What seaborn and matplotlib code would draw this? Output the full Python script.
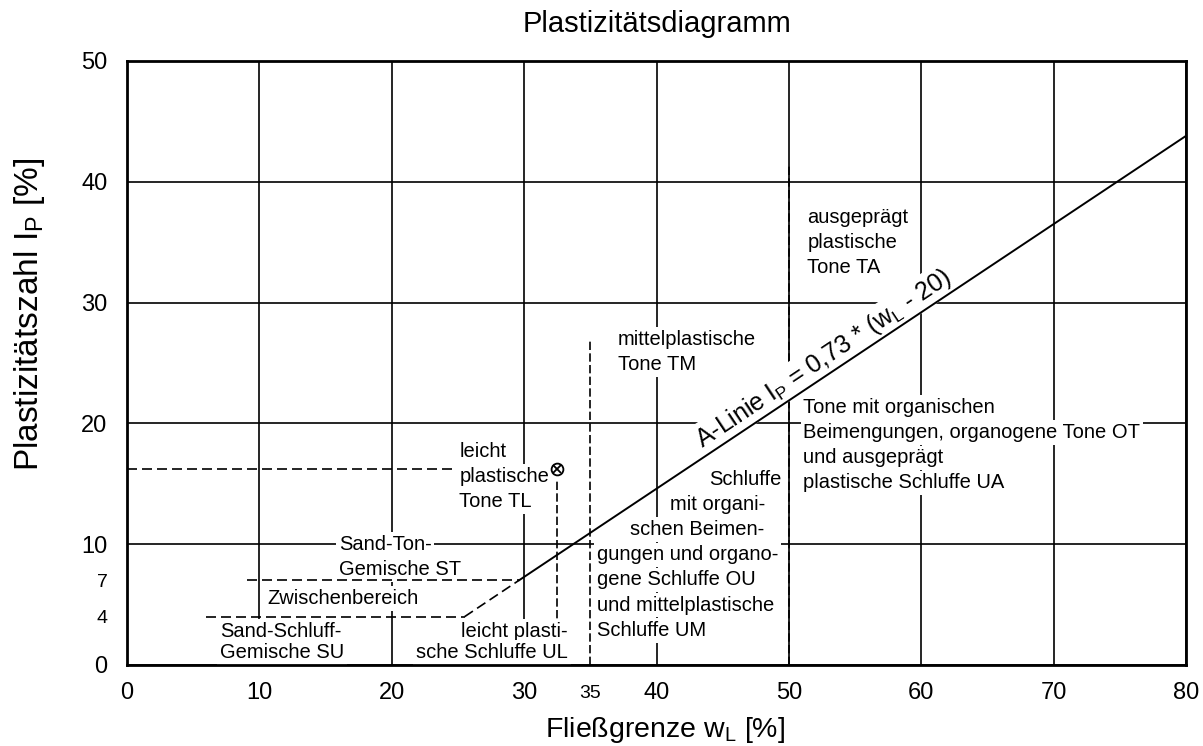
import numpy as np
import matplotlib.pyplot as plt
import seaborn as sns

# Achsen
x_major = [0, 10, 20, 30, 40, 50, 60, 70, 80]
x_minor = [35]
y_major = [0, 10, 20, 30, 40, 50]
y_minor = [4, 7]

# A-Linie
a_line_wl = [29.6, 80.0]
a_line_ip = [7.0, 43.8]
a_dash_wl = [25.5, 29.6]
a_dash_ip = [4.0, 7.0]

# Grenzlinien
st_wl = [9.1, 29.6]
st_ip = [7.0, 7.0]
su_wl = [6.0, 25.5]
su_ip = [4.0, 4.0]
tm_wl = [35.0, 35.0]
tm_ip = [0.0, 27.0]
ta_wl = [50.0, 50.0]
ta_ip = [0.0, 41.5]

# Probe
probe_wl = 32.5
probe_ip = 16.2

sns.set_style("white")
plt.rcParams["font.family"] = ["Liberation Sans", "DejaVu Sans"]
plt.rcParams["mathtext.fontset"] = "custom"
plt.rcParams["mathtext.rm"] = "Liberation Sans"
plt.rcParams["text.color"] = "black"
plt.rcParams["axes.labelcolor"] = "black"
plt.rcParams["xtick.color"] = "black"
plt.rcParams["ytick.color"] = "black"

fig = plt.figure(figsize=(12.03, 7.46), dpi=100)
ax = fig.add_axes([0.1056, 0.1086, 0.8803, 0.8097])

dash_h = (0, (6, 3))
dash_v = (0, (5, 2))
line_kw = dict(color="black", lw=1.2, estimator=None, sort=False, ax=ax, zorder=4)

sns.lineplot(x=a_line_wl, y=a_line_ip, color="black", lw=1.4, estimator=None, sort=False, ax=ax, zorder=5)
sns.lineplot(x=a_dash_wl, y=a_dash_ip, linestyle=dash_h, **line_kw)
sns.lineplot(x=st_wl, y=st_ip, linestyle=dash_h, **line_kw)
sns.lineplot(x=su_wl, y=su_ip, linestyle=dash_h, **line_kw)
sns.lineplot(x=tm_wl, y=tm_ip, linestyle=dash_v, **line_kw)
sns.lineplot(x=ta_wl, y=ta_ip, linestyle=dash_v, **line_kw)
# Hilfslinien zur Probe
sns.lineplot(x=[0, 25.0], y=[probe_ip, probe_ip], linestyle=dash_h, **line_kw)
sns.lineplot(x=[probe_wl, probe_wl], y=[0, probe_ip - 1.0], linestyle=dash_v, **line_kw)
sns.lineplot(x=[probe_wl], y=[probe_ip], marker="o", ms=8.5, mfc="white", mec="black", mew=1.3,
             color="black", estimator=None, ax=ax, zorder=6)
sns.lineplot(x=[probe_wl], y=[probe_ip], marker="x", ms=6, mec="black", mew=1.3,
             color="black", estimator=None, ax=ax, zorder=7)

ax.set_xlim(0, 80)
ax.set_ylim(0, 50)
ax.set_xticks(x_major)
ax.set_xticks(x_minor, minor=True)
ax.set_yticks(y_major)
ax.set_yticks(y_minor, minor=True)
ax.set_xticklabels([str(v) for v in x_major])
ax.set_xticklabels([str(v) for v in x_minor], minor=True)
ax.set_yticklabels([str(v) for v in y_major])
ax.set_yticklabels([str(v) for v in y_minor], minor=True)
ax.tick_params(axis="both", which="both", direction="in", length=10, width=1.1, color="black")
ax.tick_params(axis="x", which="major", labelsize=17, pad=12)
ax.tick_params(axis="x", which="minor", labelsize=14, pad=14.2)
ax.tick_params(axis="y", which="major", labelsize=17, pad=14)
ax.tick_params(axis="y", which="minor", labelsize=14, pad=14)
ax.grid(True, which="major", color="black", lw=1.2)
for sp in ax.spines.values():
    sp.set_linewidth(2.0)
    sp.set_color("black")
    sp.set_zorder(10)

ax.set_title("Plastizitätsdiagramm", fontsize=21, pad=21)
ax.set_xlabel(r"Fließgrenze w$_\mathregular{L}$ [%]", fontsize=20.5)
ax.set_ylabel(r"Plastizitätszahl I$_\mathregular{P}$ [%]", fontsize=24)
ax.xaxis.set_label_coords(0.508, -0.083)
ax.yaxis.set_label_coords(-0.0755, 0.58)

box = dict(facecolor="white", edgecolor="none", pad=2)


def block(lines, x, y, ha="left", step=2.08, xs=None, z=4.5):
    for i, s in enumerate(lines):
        ax.text(x if xs is None else xs[i], y - i * step, s, ha=ha, va="baseline",
                fontsize=14.5, bbox=box, zorder=z)


block(["leicht", "plastische", "Tone TL"], 25.1, 17.25)
block(["Sand-Ton-", "Gemische ST"], 16.0, 9.52, z=3)
block(["Zwischenbereich"], 10.6, 5.05)
block(["Sand-Schluff-", "Gemische SU"], 7.0, 2.3, step=1.71)
block(["leicht plasti-", "sche Schluffe UL"], 33.3, 2.3, ha="right", step=1.71)
block(["mittelplastische", "Tone TM"], 37.1, 26.5)
block(["ausgeprägt", "plastische", "Tone TA"], 51.4, 36.6)
block(["Tone mit organischen", "Beimengungen, organogene Tone OT",
       "und ausgeprägt", "plastische Schluffe UA"], 51.1, 20.85)
block(["Schluffe", "mit organi-", "schen Beimen-", "gungen und organo-",
       "gene Schluffe OU", "und mittelplastische", "Schluffe UM"], 35.5, 14.9,
      xs=[44.0, 41.0, 38.0, 35.5, 35.5, 35.5, 35.5])

ax.text(53.2, 24.4, r"A-Linie I$_\mathregular{P}$ = 0,73 * (w$_\mathregular{L}$ - 20)",
        rotation=np.degrees(np.arctan(0.73)), transform_rotates_text=True,
        rotation_mode="anchor", ha="center", va="bottom", fontsize=18, bbox=box, zorder=4.5)

fig.savefig("out.png", dpi=100)
